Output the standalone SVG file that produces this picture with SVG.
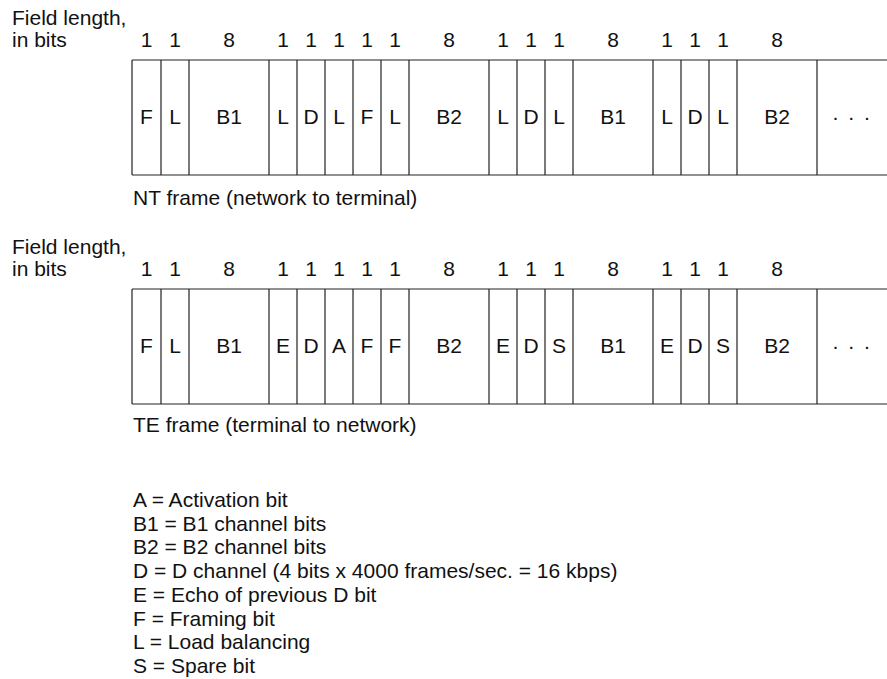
<svg xmlns="http://www.w3.org/2000/svg" width="887" height="679" viewBox="0 0 887 679">
<style>
text{font-family:"Liberation Sans",Arial,sans-serif;font-size:21px;fill:#111}
.c{text-anchor:middle}
.ln{stroke:#222;stroke-width:1.2;fill:none}
</style>
<rect width="887" height="679" fill="#fff"/>
<g id="nt-frame">
<text x="12" y="25">Field length,</text>
<text x="12" y="47">in bits</text>
<g class="c">
<text x="146.5" y="47">1</text><text x="175" y="47">1</text><text x="229" y="47">8</text>
<text x="283" y="47">1</text><text x="311" y="47">1</text><text x="339" y="47">1</text><text x="367" y="47">1</text><text x="395" y="47">1</text>
<text x="449" y="47">8</text>
<text x="503" y="47">1</text><text x="531" y="47">1</text><text x="559" y="47">1</text>
<text x="613" y="47">8</text>
<text x="667" y="47">1</text><text x="695" y="47">1</text><text x="723" y="47">1</text>
<text x="777" y="47">8</text>
</g>
<path class="ln" d="M132 60H887M132 175H887M132 60V175M161 60V175M189 60V175M269 60V175M297 60V175M325 60V175M353 60V175M381 60V175M409 60V175M489 60V175M517 60V175M545 60V175M573 60V175M653 60V175M681 60V175M709 60V175M737 60V175M817 60V175"/>
<g class="c">
<text x="146.5" y="124">F</text><text x="175" y="124">L</text><text x="229" y="124">B1</text>
<text x="283" y="124">L</text><text x="311" y="124">D</text><text x="339" y="124">L</text><text x="367" y="124">F</text><text x="395" y="124">L</text>
<text x="449" y="124">B2</text>
<text x="503" y="124">L</text><text x="531" y="124">D</text><text x="559" y="124">L</text>
<text x="613" y="124">B1</text>
<text x="667" y="124">L</text><text x="695" y="124">D</text><text x="723" y="124">L</text>
<text x="777" y="124">B2</text>
<text x="852" y="124" letter-spacing="1.5">· · ·</text>
</g>
<text x="133" y="205">NT frame (network to terminal)</text>
</g>
<g id="te-frame">
<text x="12" y="254">Field length,</text>
<text x="12" y="276">in bits</text>
<g class="c">
<text x="146.5" y="276">1</text><text x="175" y="276">1</text><text x="229" y="276">8</text>
<text x="283" y="276">1</text><text x="311" y="276">1</text><text x="339" y="276">1</text><text x="367" y="276">1</text><text x="395" y="276">1</text>
<text x="449" y="276">8</text>
<text x="503" y="276">1</text><text x="531" y="276">1</text><text x="559" y="276">1</text>
<text x="613" y="276">8</text>
<text x="667" y="276">1</text><text x="695" y="276">1</text><text x="723" y="276">1</text>
<text x="777" y="276">8</text>
</g>
<path class="ln" d="M132 289H887M132 404H887M132 289V404M161 289V404M189 289V404M269 289V404M297 289V404M325 289V404M353 289V404M381 289V404M409 289V404M489 289V404M517 289V404M545 289V404M573 289V404M653 289V404M681 289V404M709 289V404M737 289V404M817 289V404"/>
<g class="c">
<text x="146.5" y="353">F</text><text x="175" y="353">L</text><text x="229" y="353">B1</text>
<text x="283" y="353">E</text><text x="311" y="353">D</text><text x="339" y="353">A</text><text x="367" y="353">F</text><text x="395" y="353">F</text>
<text x="449" y="353">B2</text>
<text x="503" y="353">E</text><text x="531" y="353">D</text><text x="559" y="353">S</text>
<text x="613" y="353">B1</text>
<text x="667" y="353">E</text><text x="695" y="353">D</text><text x="723" y="353">S</text>
<text x="777" y="353">B2</text>
<text x="852" y="353" letter-spacing="1.5">· · ·</text>
</g>
<text x="133" y="432">TE frame (terminal to network)</text>
</g>
<g id="legend">
<text x="133" y="507">A = Activation bit</text>
<text x="133" y="531">B1 = B1 channel bits</text>
<text x="133" y="554">B2 = B2 channel bits</text>
<text x="133" y="578">D = D channel (4 bits x 4000 frames/sec. = 16 kbps)</text>
<text x="133" y="602">E = Echo of previous D bit</text>
<text x="133" y="626">F = Framing bit</text>
<text x="133" y="649">L = Load balancing</text>
<text x="133" y="673">S = Spare bit</text>
</g>
</svg>
